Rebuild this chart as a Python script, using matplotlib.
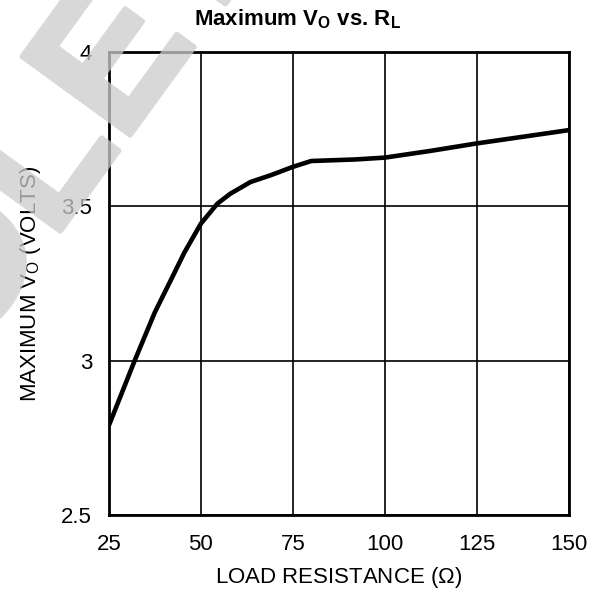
import numpy as np
import matplotlib.pyplot as plt
import matplotlib.patheffects as pe

plt.rcParams['font.family'] = 'Liberation Sans'
plt.rcParams['font.size'] = 16
plt.rcParams['mathtext.fontset'] = 'custom'
plt.rcParams['mathtext.rm'] = 'Liberation Sans'
plt.rcParams['mathtext.bf'] = 'Liberation Sans:bold'

# load resistance (ohm) and maximum output voltage (V)
r_load = [25, 28, 32, 37.5, 42, 45.5, 50, 54.5, 58, 63.5, 69, 75, 80, 92, 100,
          112, 125, 150]
v_max = [2.79, 2.88, 3.0, 3.157, 3.265, 3.35, 3.444, 3.509, 3.541, 3.579, 3.601,
         3.628, 3.647, 3.652, 3.658, 3.679, 3.704, 3.747]

x_ticks = [25, 50, 75, 100, 125, 150]
y_ticks = [2.5, 3, 3.5, 4]
y_ticklabels = ['2.5', '3', '3.5', '4']

fig = plt.figure(figsize=(5.95, 5.95), dpi=100)
ax = fig.add_axes([0.183, 0.1345, 0.773, 0.778])

ax.plot(r_load, v_max, color='k', lw=3.3, solid_capstyle='butt',
        solid_joinstyle='round', zorder=3)

ax.set_xlim(25, 150)
ax.set_ylim(2.5, 4)
ax.set_xticks(x_ticks)
ax.set_yticks(y_ticks)
ax.set_yticklabels(y_ticklabels)
ax.tick_params(length=0, pad=12)
ax.tick_params(axis='x', pad=14)
ax.grid(True, color='k', lw=1.2)
for s in ax.spines.values():
    s.set_linewidth(2.0)
    s.set_zorder(4)

ax.set_xlabel('LOAD RESISTANCE ($\\Omega$)', labelpad=7)
fig.text(36 / 595, 0.5235, 'MAXIMUM V$_\\mathrm{O}$ (VOLTS)', rotation=90,
         rotation_mode='anchor', ha='center', va='baseline')
fig.text(0.5, 1 - 25 / 595, 'Maximum V$_\\mathbf{O}$ vs. R$_\\mathbf{L}$',
         fontsize=16, fontweight='bold', ha='center', va='baseline')


def fade(img, dpi):
    # draw the watermark opaque off-screen, then lay it on with one alpha
    img = img.copy()
    img[..., 3] *= 0.75
    return img, 0, 0


wm = fig.text(-0.477, -0.185, 'OBSOLETE', fontsize=140, fontweight='bold',
              color='#cccccc', rotation=54, rotation_mode='anchor',
              ha='left', va='baseline', zorder=10)
wm.set_path_effects([pe.withStroke(linewidth=3.6, foreground='#cccccc')])
wm.set_agg_filter(fade)

plt.savefig('out.png', dpi=100)
